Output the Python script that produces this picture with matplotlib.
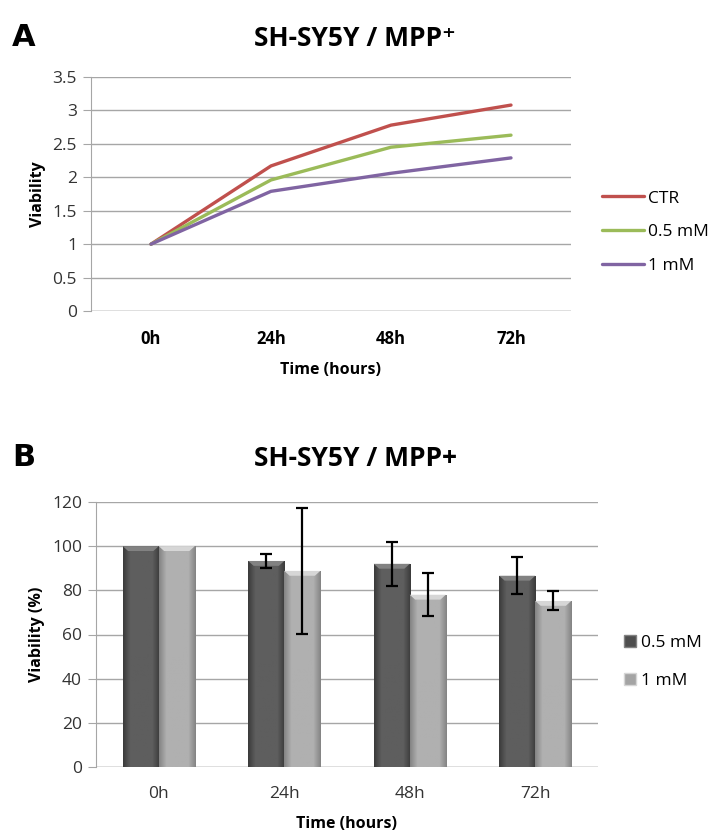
import numpy as np
import matplotlib
matplotlib.use('Agg')
import matplotlib.pyplot as plt
from matplotlib.patches import Rectangle

plt.rcParams['font.family'] = ['Open Sans', 'DejaVu Sans']

# Panel A: relative viability over time
times = ['0h', '24h', '48h', '72h']
ctr = [1.0, 2.17, 2.78, 3.08]
mpp_05 = [1.0, 1.96, 2.45, 2.63]
mpp_1 = [1.0, 1.79, 2.06, 2.29]

# Panel B: viability (%) with error bars
bar_05 = [100, 93.3, 92.0, 86.6]
err_05 = [0, 3.0, 10.0, 8.3]
bar_1 = [100, 88.8, 78.0, 75.2]
err_1 = [0, 28.6, 9.8, 4.3]

W, H = 712, 834
fig = plt.figure(figsize=(W / 100, H / 100), dpi=100)
grid_col = '#a6a6a6'


def px_axes(left, top, right, bottom):
    return fig.add_axes([left / W, 1 - bottom / H, (right - left) / W, (bottom - top) / H])


def style_axes(ax):
    for s in ['top', 'right', 'bottom']:
        ax.spines[s].set_visible(False)
    ax.spines['left'].set_color(grid_col)
    ax.yaxis.grid(True, color=grid_col, linewidth=1.0)
    ax.set_axisbelow(True)
    ax.tick_params(axis='y', length=6, color=grid_col, labelsize=12.5, pad=4,
                   labelcolor='#333333')
    ax.tick_params(axis='x', length=0, pad=14)


# ---------------- A ----------------
axA = px_axes(91, 77, 571, 311)
x = np.arange(len(times)) + 0.5
axA.plot(x, ctr, color='#c0504d', lw=2.4, label='CTR', solid_capstyle='round')
axA.plot(x, mpp_05, color='#9bbb59', lw=2.4, label='0.5 mM', solid_capstyle='round')
axA.plot(x, mpp_1, color='#8064a2', lw=2.4, label='1 mM', solid_capstyle='round')
axA.set_xlim(0, 4)
axA.set_ylim(0, 3.5)
axA.set_yticks(np.arange(0, 3.51, 0.5))
axA.set_yticklabels(['0', '0.5', '1', '1.5', '2', '2.5', '3', '3.5'])
axA.set_xticks(x)
axA.set_xticklabels(times, fontweight='bold', fontsize=12)
style_axes(axA)
axA.axhline(0, color=grid_col, lw=1.0)
axA.set_ylabel('Viability', fontweight='bold', fontsize=11.5, labelpad=5)
axA.set_xlabel('Time (hours)', fontweight='bold', fontsize=11.5, labelpad=10)
axA.legend(loc='center left', bbox_to_anchor=(602 / W, 1 - 232 / H),
           bbox_transform=fig.transFigure, frameon=False, fontsize=12.5,
           handlelength=2.4, handletextpad=0.25, labelspacing=1.0,
           borderpad=0, borderaxespad=0)

fig.text(12 / W, 1 - 38 / H, 'A', fontsize=22, fontweight='black',
         family='DejaVu Sans', va='center', ha='left')
fig.text(355 / W, 1 - 38 / H, 'SH-SY5Y / MPP⁺', fontsize=19, fontweight='bold',
         family=['Open Sans', 'DejaVu Sans'], va='center', ha='center')

# ---------------- B ----------------
axB = px_axes(96, 502, 598, 767)
xb = np.arange(len(times)) + 0.5
bw = 0.287
dark = ['#3c3c3c', '#5e5e5e']
light = ['#858585', '#b0b0b0']


def shaded_bars(xpos, vals, cols, top_col):
    bars = axB.bar(xpos, vals, width=bw, color=cols[1], edgecolor='#4e4e4e',
                   linewidth=0.6, zorder=2)
    grad = np.concatenate([np.linspace(0, 1, 8), np.ones(20), np.linspace(1, 0, 8)])
    cmap = matplotlib.colors.LinearSegmentedColormap.from_list('g', [cols[0], cols[1]])
    for b in bars:
        bx, by = b.get_x(), b.get_y()
        w, h = b.get_width(), b.get_height()
        im = axB.imshow(grad[None, :], cmap=cmap, aspect='auto',
                        extent=(bx, bx + w, by, by + h), zorder=2.1)
        im.set_clip_path(b)
        # bevelled top edge
        axB.fill([bx, bx + w, bx + w * 0.85, bx + w * 0.15],
                 [by + h, by + h, by + h - 2.2, by + h - 2.2],
                 color=top_col, zorder=2.2, lw=0)
    return bars


shaded_bars(xb - bw / 2, bar_05, dark, '#828282')
shaded_bars(xb + bw / 2, bar_1, light, '#d6d6d6')
for i in range(1, len(times)):
    axB.errorbar(xb[i] - bw / 2, bar_05[i], yerr=err_05[i], color='black',
                 lw=1.6, capsize=4, capthick=1.6, zorder=3)
    axB.errorbar(xb[i] + bw / 2, bar_1[i], yerr=err_1[i], color='black',
                 lw=1.6, capsize=4, capthick=1.6, zorder=3)

axB.set_xlim(0, 4)
axB.set_ylim(0, 120)
axB.set_yticks(np.arange(0, 121, 20))
axB.set_xticks(xb)
axB.set_xticklabels(times, fontsize=12.5, color='#333333')
style_axes(axB)
axB.axhline(0, color=grid_col, lw=1.0, zorder=1)
axB.set_ylabel('Viability (%)', fontweight='bold', fontsize=11.5, labelpad=5)
axB.set_xlabel('Time (hours)', fontweight='bold', fontsize=11.5, labelpad=10)

handles = [Rectangle((0, 0), 1, 1, facecolor='#4e4e4e', edgecolor='#828282'),
           Rectangle((0, 0), 1, 1, facecolor='#a4a4a4', edgecolor='#d6d6d6')]
axB.legend(handles, ['0.5 mM', '1 mM'], loc='center left',
           bbox_to_anchor=(624 / W, 1 - 662 / H), bbox_transform=fig.transFigure,
           frameon=False, fontsize=12.5, handlelength=0.7, handleheight=0.7,
           handletextpad=0.3, labelspacing=1.3, borderpad=0, borderaxespad=0)

fig.text(12 / W, 1 - 458 / H, 'B', fontsize=22, fontweight='black',
         family='DejaVu Sans', va='center', ha='left')
fig.text(355 / W, 1 - 458 / H, 'SH-SY5Y / MPP+', fontsize=19, fontweight='bold',
         va='center', ha='center')

fig.savefig('out.png', dpi=100)
